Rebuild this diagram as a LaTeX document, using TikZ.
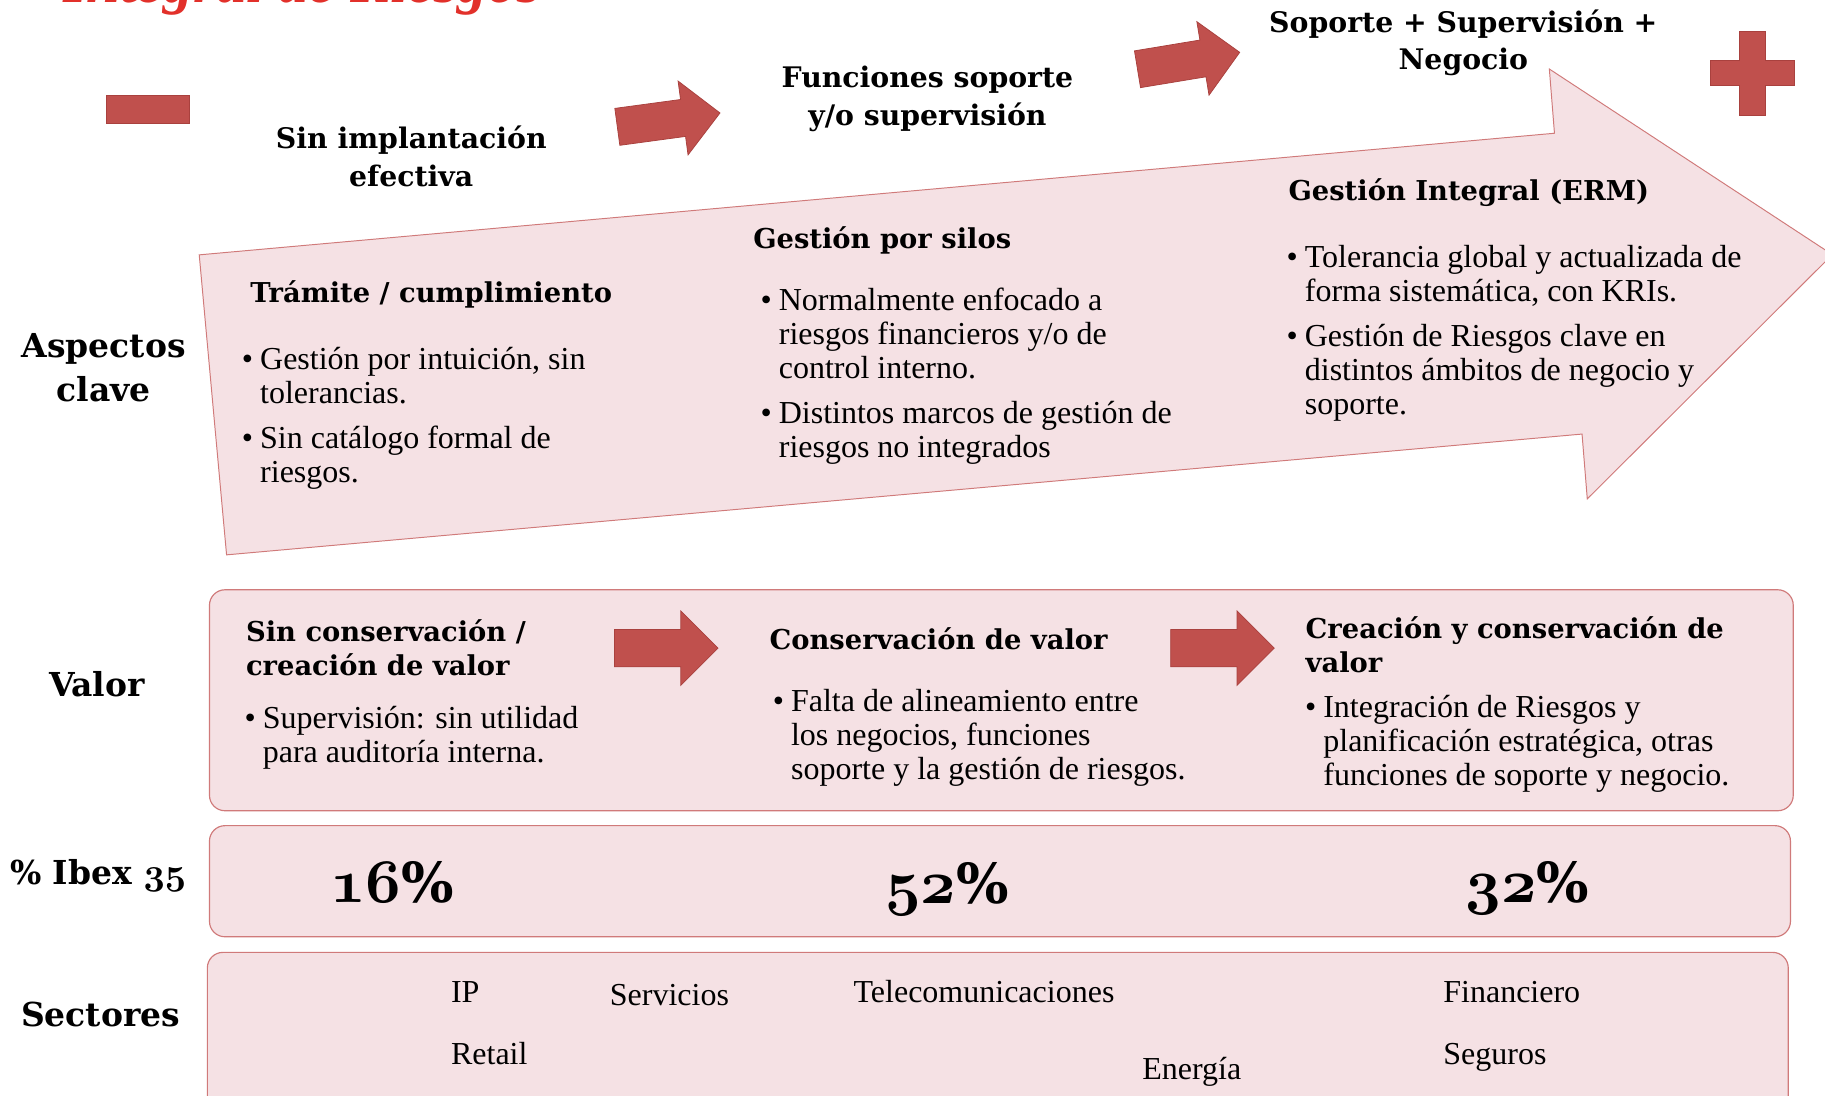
\RequirePackage{fix-cm}
\documentclass[tikz,border=0pt]{standalone}
\usepackage{fontspec}
\setmainfont{Liberation Serif}
\newfontfamily\dvserif{DejaVu Serif}

\definecolor{arrowred}{HTML}{C0504D}
\definecolor{arrowline}{HTML}{A9413E}
\definecolor{boxfill}{HTML}{F5E1E4}
\definecolor{boxline}{HTML}{D07A7A}
\definecolor{titlered}{HTML}{E2302A}

\newcommand\txfont{\fontsize{16.5}{17.6}\selectfont}
\newcommand\hdfont{\dvserif\bfseries\fontsize{14.1}{17.7}\selectfont}
\newcommand\topfont{\dvserif\bfseries\fontsize{14.6}{19.5}\selectfont}
\newcommand\sidefont{\dvserif\bfseries\fontsize{17}{22.8}\selectfont}
\newcommand\pctfont{\dvserif\bfseries\fontsize{28.5}{34}\selectfont}
\newcommand\osn[1]{\scalebox{1.12}{\boldmath$\mathnormal{#1}$}}
\newcommand\bul{\makebox[9.4pt][l]{\textbullet}}

\begin{document}
\begin{tikzpicture}[x=0.6pt, y=-0.6pt,
    bigarrow/.style={fill=boxfill, draw=boxline, line width=0.5pt},
    box/.style={fill=boxfill, draw=boxline, line width=0.6pt, rounded corners=8pt},
    redshape/.style={fill=arrowred, draw=arrowline, line width=0.4pt},
    head/.style={font=\hdfont, inner sep=0pt, anchor=base west},
    top/.style={font=\topfont, inner sep=0pt, anchor=base},
    side/.style={font=\sidefont, inner sep=0pt, anchor=base},
    txt/.style={font=\txfont, inner sep=0pt, anchor=base west},
    pct/.style={font=\pctfont, inner sep=0pt, anchor=base},
    pics/blockarrow/.style={code={
        \draw[redshape] (0,-16) -- (57,-16) -- (57,-32) -- (89,0) -- (57,32) -- (57,16) -- (0,16) -- cycle;}}]

    \useasboundingbox (0,0) rectangle (1568.3,941);
    \clip (0,0) rectangle (1568.3,941);

    % title, cut off by the top edge
    \node[font=\fontsize{31}{36}\selectfont\bfseries\itshape, text=titlered, inner sep=0pt, anchor=base west] (title) at (54,2) {Integral de Riesgos};

    % minus and plus signs
    \fill[redshape] (91,82) rectangle (163,106);
    \fill[redshape] (1495,27.2) -- (1516.7,27.2) -- (1516.7,52) -- (1542,52) -- (1542,73.6) -- (1516.7,73.6)
        -- (1516.7,98.8) -- (1495,98.8) -- (1495,73.6) -- (1469.8,73.6) -- (1469.8,52) -- (1495,52) -- cycle;

    % big arrow
    \draw[bigarrow] (171.2,219) -- (1335.8,114.5) -- (1331.4,59.3) -- (1574.6,218.8) -- (1364,428.7)
        -- (1359.5,373) -- (194.7,476.8) -- cycle;

    % rows
    \draw[box] (180,506.8) rectangle (1541,696.7);
    \draw[box] (180,709.5) rectangle (1538.6,805);
    \draw[box] (178.2,818.4) rectangle (1536.7,975);

    % small arrows
    \pic[rotate=7.7] at (530.5,109) {blockarrow};
    \pic[rotate=9.4] at (977.5,59.5) {blockarrow};
    \pic at (528,557) {blockarrow};
    \pic at (1006,557) {blockarrow};

    % stage titles
    \node[top] (none) at (353.4,127.4) {\begin{tabular}[t]{@{}c@{}}Sin implantación\\efectiva\end{tabular}};
    \node[top] (supp) at (797,75.5) {\begin{tabular}[t]{@{}c@{}}Funciones soporte\\y/o supervisión\end{tabular}};
    \node[top] (full) at (1257.5,27.5) {\begin{tabular}[t]{@{}c@{}}Soporte + Supervisión +\\Negocio\end{tabular}};

    % row labels
    \node[side] (aspectos) at (89,307) {\begin{tabular}[t]{@{}c@{}}Aspectos\\clave\end{tabular}};
    \node[side] (valor) at (83.3,598.5) {Valor};
    \node[side] (ibex) at (84.3,760.2) {\% Ibex \osn{35}};
    \node[side] (sectores) at (86.4,882.5) {Sectores};

    % key aspects
    \node[head] (tram) at (214.8,260) {Trámite / cumplimiento};
    \node[head] (silos) at (647,213.5) {Gestión por silos};
    \node[head] (erm) at (1107,172.5) {Gestión Integral (ERM)};

    \node[txt] (tramlist) at (207.6,317.3) {\begin{tabular}[t]{@{}l@{}l@{}}
        \bul & Gestión por intuición, sin\\ & tolerancias.\\[5.5pt]
        \bul & Sin catálogo formal de\\ & riesgos.\end{tabular}};
    \node[txt] (siloslist) at (653.3,266.5) {\begin{tabular}[t]{@{}l@{}l@{}}
        \bul & Normalmente enfocado a\\ & riesgos financieros y/o de\\ & control interno.\\[5.5pt]
        \bul & Distintos marcos de gestión de\\ & riesgos no integrados\end{tabular}};
    \node[txt] (ermlist) at (1105.3,229.5) {\begin{tabular}[t]{@{}l@{}l@{}}
        \bul & Tolerancia global y actualizada de\\ & forma sistemática, con KRIs.\\[5.5pt]
        \bul & Gestión de Riesgos clave en\\ & distintos ámbitos de negocio y\\ & soporte.\end{tabular}};

    % value
    \node[head] (v1) at (211.1,551.2) {\begin{tabular}[t]{@{}l@{}}Sin conservación /\\creación de valor\end{tabular}};
    \node[head] (v2) at (661,557.8) {Conservación de valor};
    \node[head] (v3) at (1121.7,548.3) {\begin{tabular}[t]{@{}l@{}}Creación y conservación de\\valor\end{tabular}};

    \node[txt] (v1list) at (209.9,625.7) {\begin{tabular}[t]{@{}l@{}l@{}}
        \bul & Supervisión: sin utilidad\\ & para auditoría interna.\end{tabular}};
    \node[txt] (v2list) at (663.8,611.3) {\begin{tabular}[t]{@{}l@{}l@{}}
        \bul & Falta de alineamiento entre\\ & los negocios, funciones\\ & soporte y la gestión de riesgos.\end{tabular}};
    \node[txt] (v3list) at (1121.2,616.2) {\begin{tabular}[t]{@{}l@{}l@{}}
        \bul & Integración de Riesgos y\\ & planificación estratégica, otras\\ & funciones de soporte y negocio.\end{tabular}};

    % share of Ibex 35
    \node[pct] (p16) at (337,775.4) {\osn{16}\%};
    \node[pct] (p52) at (814,776) {\osn{52}\%};
    \node[pct] (p32) at (1312.7,775.4) {\osn{32}\%};

    % sectors
    \node[txt] (ip) at (387.3,861.3) {IP};
    \node[txt] (retail) at (387.3,914.8) {Retail};
    \node[txt] (servicios) at (523.8,864.2) {Servicios};
    \node[txt] (telecom) at (733.2,861.3) {Telecomunicaciones};
    \node[txt] (energia) at (981.3,927.7) {Energía};
    \node[txt] (financiero) at (1240,861.3) {Financiero};
    \node[txt] (seguros) at (1240,914.8) {Seguros};

\end{tikzpicture}
\end{document}
